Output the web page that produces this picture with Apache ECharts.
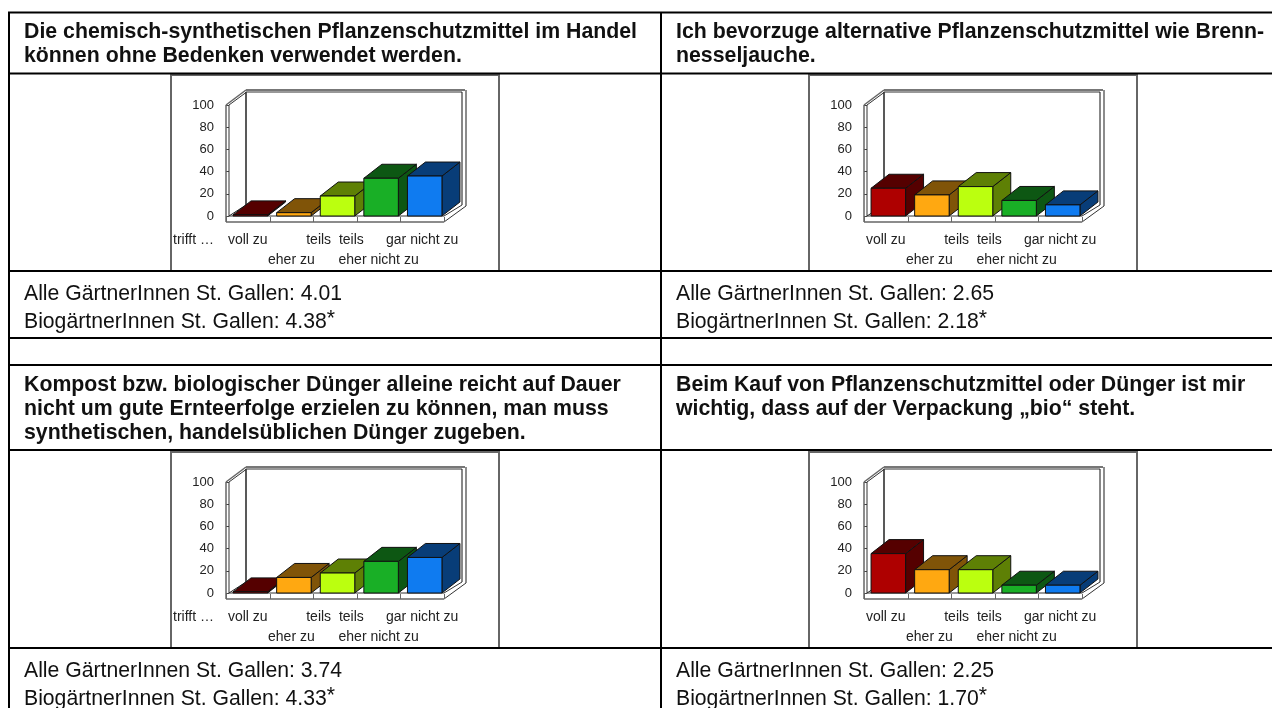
<!DOCTYPE html>
<html>
<head>
<meta charset="utf-8">
<title>Pflanzenschutz Umfrage</title>
<style>
  html, body { margin: 0; padding: 0; background: #fff; }
  #chart { width: 1272px; height: 708px; }
</style>
<script src="https://cdn.jsdelivr.net/npm/echarts@6/dist/echarts.min.js"></script>
</head>
<body>
<div id="chart"></div>
<script>
// antwortkategorien, gleich fuer alle vier diagramme
const categories = ["voll zu", "eher zu", "teils  teils", "eher nicht zu", "gar nicht zu"];
const yTicks = [0, 20, 40, 60, 80, 100];

// werte aus dem bild gelesen (prozent)
const chemischValues = [1, 3, 18, 34, 36];
const alternativValues = [25, 19, 26.5, 14, 10];
const kompostValues = [1, 14, 18, 28.5, 32];
const bioValues = [35.5, 21, 21, 7, 7];

const panelValues = [chemischValues, alternativValues, kompostValues, bioValues];
const leadLabels = ["trifft …", "", "trifft …", ""];

const headers = [
  "Die chemisch-synthetischen Pflanzenschutzmittel im Handel\nkönnen ohne Bedenken verwendet werden.",
  "Ich bevorzuge alternative Pflanzenschutzmittel wie Brenn-\nnesseljauche.",
  "Kompost bzw. biologischer Dünger alleine reicht auf Dauer\nnicht um gute Ernteerfolge erzielen zu können, man muss\nsynthetischen, handelsüblichen Dünger zugeben.",
  "Beim Kauf von Pflanzenschutzmittel oder Dünger ist mir\nwichtig, dass auf der Verpackung „bio“ steht.",
];
const allMeans = ["4.01", "2.65", "3.74", "2.25"];
const bioMeans = ["4.38", "2.18", "4.33", "1.70"];

const frontColors = ["#ae0000", "#ffa811", "#bbff0f", "#19af26", "#0f7bf0"];
const shadeColors = ["#550000", "#805408", "#5e8005", "#0d5713", "#083d78"];

// layout der tabelle
const FONT = "Liberation Sans";
const BODY_FONT = "21.2px " + FONT;
const colX = [0, 638];
const textX = [24, 676];
const rowY = [0, 377];
const hLines = [12.5, 73.5, 271, 338, 365, 450, 648];
const vLines = [9, 661];
const BOX_DX = 20, BOX_DY = 15; // tiefe der wand
const BAR_DX = 18, BAR_DY = 14; // tiefe der balken
const BAR_W = 34.5;

const grids = [], xAxes = [], yAxes = [], series = [], graphics = [];

const measure = document.createElement("canvas").getContext("2d");
measure.font = BODY_FONT;

function poly(points, fill, stroke) {
  return {
    type: "polygon",
    shape: { points },
    style: { fill, stroke: stroke || "#111", lineWidth: 1 },
  };
}

function line(x1, y1, x2, y2, stroke, lineWidth) {
  return {
    type: "line",
    shape: { x1, y1, x2, y2 },
    style: { stroke, lineWidth: lineWidth || 1, fill: null },
  };
}

// wand + boden, ecken kommen aus den achsen
function renderWalls(params, api) {
  const band = api.size([1, 0])[0];
  const base = api.coord([0, 0]);
  const top = api.coord([0, 100])[1];
  const l = base[0] - band / 2;
  const r = l + band * 5;
  const y0 = base[1];
  const floorY = y0 + 6;
  const gray = "#666";
  const children = [
    // linke wand
    line(l, top, l, floorY, gray, 1.5),
    line(l + 3, top, l + 3, y0, "#333"),
    line(l, top, l + BOX_DX, top - BOX_DY, gray, 1.5),
    line(l + 3, top, l + BOX_DX, top - BOX_DY + 2.5, "#333"),
    line(l + BOX_DX, top - BOX_DY + 2, l + BOX_DX, y0 - 11, "#222", 1.5),
    line(l + BOX_DX, y0 - 11, l + 3, y0, "#222"),
    // hintere wand
    line(l + BOX_DX, top - BOX_DY, r + BOX_DX + 1, top - BOX_DY, "#777", 2),
    line(l + BOX_DX, top - BOX_DY + 2, r + BOX_DX - 2, top - BOX_DY + 2, "#333"),
    line(r + BOX_DX + 2, top - BOX_DY, r + BOX_DX + 2, floorY - BOX_DY - 1, gray, 1.5),
    line(r + BOX_DX - 2, top - BOX_DY + 2, r + BOX_DX - 2, y0 - 11, "#111"),
    // boden
    line(l, floorY, r, floorY, gray, 1.5),
    line(r, y0, r + BOX_DX - 2, y0 - 11, "#333"),
    line(r, floorY, r + BOX_DX + 2, floorY - BOX_DY - 1, "#333"),
    line(l + 3, y0, r, y0, "#333"),
  ];
  for (let i = 0; i <= 5; i++) {
    const x = Math.round(l + band * i) + 0.5;
    children.push(line(x, y0 + 1, x, floorY, gray, 1));
  }
  return { type: "group", children };
}

// balken als quader
function renderBar(params, api) {
  const cat = api.value(0);
  const val = api.value(1);
  const c = api.coord([cat, val]);
  const y0 = api.coord([cat, 0])[1];
  const x1 = c[0] - BAR_W / 2 + 2.5;
  const x2 = x1 + BAR_W;
  const y1 = c[1];
  return {
    type: "group",
    children: [
      poly([[x2, y1], [x2 + BAR_DX, y1 - BAR_DY], [x2 + BAR_DX, y0 - BAR_DY], [x2, y0]], shadeColors[cat]),
      poly([[x1, y1], [x1 + BAR_DX, y1 - BAR_DY], [x2 + BAR_DX, y1 - BAR_DY], [x2, y1]], shadeColors[cat]),
      poly([[x1, y1], [x2, y1], [x2, y0], [x1, y0]], frontColors[cat]),
    ],
  };
}

panelValues.forEach(function (values, i) {
  const ox = colX[i % 2];
  const oy = rowY[Math.floor(i / 2)];

  grids.push({ left: 226 + ox, top: 105 + oy, width: 218, height: 111 });
  xAxes.push({
    type: "category",
    gridIndex: i,
    data: categories,
    axisLine: { show: false },
    axisTick: { show: false },
    axisLabel: {
      interval: 0,
      hideOverlap: false,
      margin: 14,
      fontFamily: FONT,
      fontSize: 14,
      lineHeight: 20,
      color: "#222",
      formatter: function (v, idx) {
        return idx % 2 ? "\n" + v : v;
      },
    },
  });
  yAxes.push({
    type: "value",
    gridIndex: i,
    min: yTicks[0],
    max: yTicks[yTicks.length - 1],
    interval: 20,
    splitLine: { show: false },
    axisLine: { show: false },
    axisTick: { show: true, inside: true, length: 3, lineStyle: { color: "#444" } },
    axisLabel: { margin: 12, fontFamily: FONT, fontSize: 13, color: "#222" },
  });

  series.push({
    type: "custom",
    xAxisIndex: i,
    yAxisIndex: i,
    z: 2,
    silent: true,
    renderItem: renderWalls,
    encode: { x: 0, y: 1 },
    data: [[0, 0]],
  });
  series.push({
    type: "custom",
    xAxisIndex: i,
    yAxisIndex: i,
    z: 3,
    silent: true,
    renderItem: renderBar,
    encode: { x: 0, y: 1 },
    data: values.map(function (v, idx) { return [idx, v]; }),
  });

  // rahmen um das diagramm
  graphics.push({
    type: "rect",
    z: 0,
    shape: { x: 171 + ox, y: 75 + oy, width: 328, height: 196 },
    style: { fill: "#fff", stroke: "#666", lineWidth: 2 },
  });
  if (leadLabels[i]) {
    graphics.push({
      type: "text",
      x: 173 + ox,
      y: 240 + oy,
      z: 5,
      style: { text: leadLabels[i], font: "14px " + FONT, fill: "#222", verticalAlign: "middle" },
    });
  }

  // texte in der tabelle
  const rowTop = i < 2 ? 12 : 365;
  const meanTop = i < 2 ? 271 : 648;
  const tx = textX[i % 2];
  const bioText = "BiogärtnerInnen St. Gallen: " + bioMeans[i];
  graphics.push({
    type: "text",
    x: tx,
    y: rowTop + 8,
    z: 5,
    style: {
      text: headers[i],
      font: "bold 21.3px " + FONT,
      lineHeight: 24,
      fill: "#111",
    },
  });
  graphics.push({
    type: "text",
    x: tx,
    y: meanTop + 23,
    z: 5,
    style: {
      text: "Alle GärtnerInnen St. Gallen: " + allMeans[i],
      font: BODY_FONT,
      fill: "#111",
      verticalAlign: "middle",
    },
  });
  graphics.push({
    type: "text",
    x: tx,
    y: meanTop + 51,
    z: 5,
    style: { text: bioText, font: BODY_FONT, fill: "#111", verticalAlign: "middle" },
  });
  // hochgestellter stern
  graphics.push({
    type: "text",
    x: tx + measure.measureText(bioText).width,
    y: meanTop + 48,
    z: 5,
    style: { text: "*", font: BODY_FONT, fill: "#111", verticalAlign: "middle" },
  });
});

hLines.forEach(function (y) {
  graphics.push({
    type: "line",
    z: 4,
    shape: { x1: 8, y1: y, x2: 1272, y2: y },
    style: { stroke: "#000", lineWidth: 2 },
  });
});
vLines.forEach(function (x) {
  graphics.push({
    type: "line",
    z: 4,
    shape: { x1: x, y1: 12, x2: x, y2: 708 },
    style: { stroke: "#000", lineWidth: 2 },
  });
});

const chart = echarts.init(document.getElementById("chart"), null, { renderer: "canvas" });
chart.setOption({
  animation: false,
  backgroundColor: "#fff",
  grid: grids,
  xAxis: xAxes,
  yAxis: yAxes,
  series: series,
  graphic: graphics,
});
</script>
</body>
</html>
